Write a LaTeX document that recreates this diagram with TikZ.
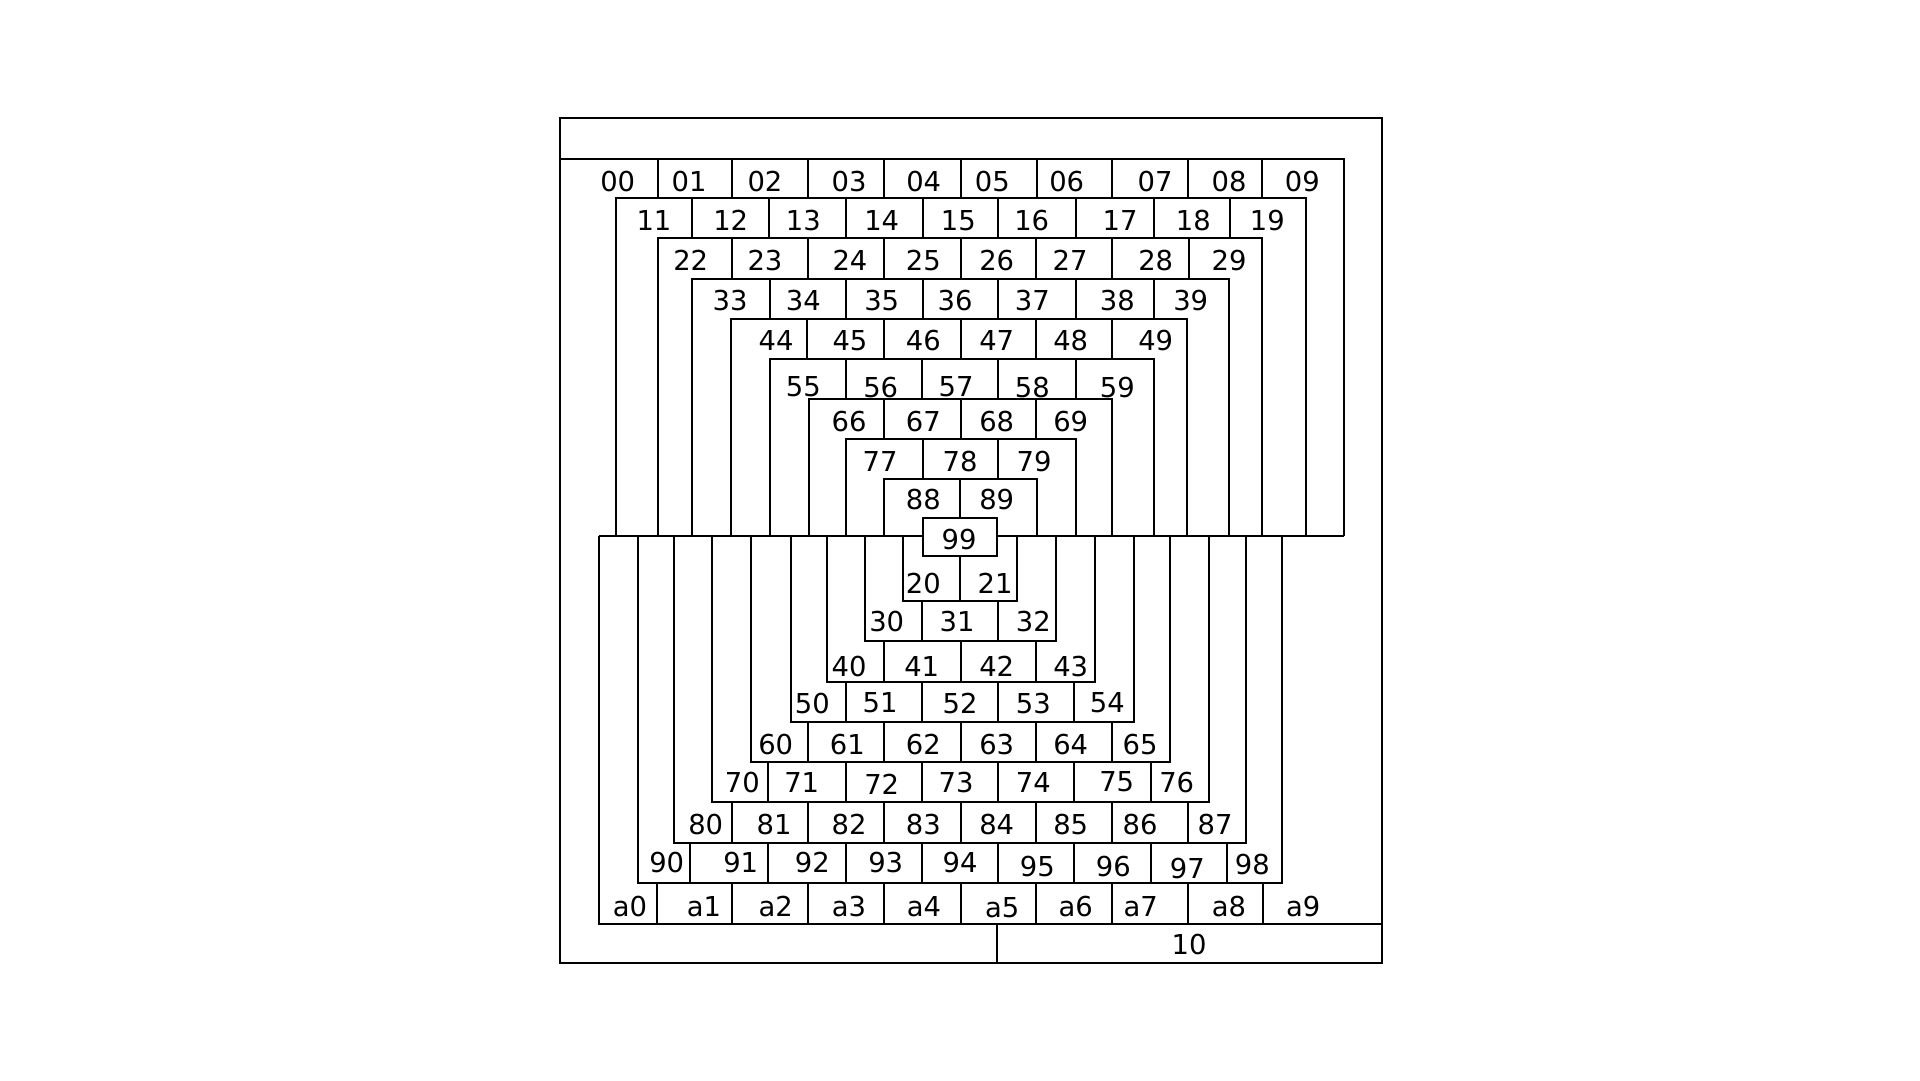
\documentclass[tikz,border=0pt]{standalone}
\usepackage{fontspec}
\setmainfont{DejaVu Sans}

\begin{document}
\begin{tikzpicture}[x=0.1mm,y=-0.1mm,line width=0.55pt]
  \tikzstyle{lbl}=[inner sep=0pt,yshift=-0.4pt,font=\fontsize{7.8}{9}\selectfont]
  \useasboundingbox (0,0) rectangle (1920,1080);
  \draw (560,118.3) rectangle (1381.7,963.3);
  \draw (560,159.3) -- (1344,159.3) -- (1344,536);
  \foreach \l/\t/\r in {616/198.3/1305.7,657.7/238.3/1261.7,691.7/279.3/1229.3,731/319.3/1186.7,
      770/359.3/1154,809/399.3/1111.7,846/439.3/1076,884/479/1036.7}
    \draw (\l,536) -- (\l,\t) -- (\r,\t) -- (\r,536);
  \draw (599,536) -- (1344,536);
  \foreach \l/\b/\r in {903.3/601/1017.3,865/641/1055.7,827.3/681.7/1095,790.7/721.7/1134,
      751/762.3/1169.7,711.7/802.3/1209.3,674.3/842.7/1245.7,637.7/883.3/1281.7}
    \draw (\l,536) -- (\l,\b) -- (\r,\b) -- (\r,536);
  \draw (599,536) -- (599,924) -- (1381.7,924);
  \draw (997.3,924) -- (997.3,963.3);
  \foreach \t/\b/\xs in {
      159.3/198.3/{658.3,732.3,808.3,884,960.7,1036.7,1111.7,1187.7,1262.3},
      198.3/238.3/{691.7,769.3,845.7,922.7,998.3,1076,1154.3,1230},
      238.3/279.3/{732.3,808.3,884,960.7,1036,1111.7,1189},
      279.3/319.3/{770,845.7,922.7,998.3,1076,1154.3},
      319.3/359.3/{807.3,884,960.7,1036,1112.3},
      359.3/399.3/{845.7,921.7,998.3,1076},
      399.3/439.3/{884,960.7,1036},
      439.3/479/{922.7,998.3},
      479/517.7/{960},
      556/601/{960},
      601/641/{921.7,997.7},
      641/681.7/{884,960.7,1036},
      681.7/721.7/{845.7,921.7,998.3,1074.3},
      721.7/762.3/{808.3,884,960.7,1036,1111.7},
      762.3/802.3/{767.7,845.7,921.7,998.3,1074.3,1151},
      802.3/842.7/{731.7,808.3,884,960.7,1036,1111.7,1187.7},
      842.7/883.3/{690,767.7,845.7,921.7,998.3,1074.3,1150.7,1226.7},
      883.3/924/{656.7,731.7,808.3,884,960.7,1036,1111.7,1187.7,1263.3}}
    \foreach \x in \xs \draw (\x,\t) -- (\x,\b);
  \draw[fill=white] (922.7,517.7) rectangle (997.3,556);
  \foreach \y/\row in {
      180/{00/617.7,01/689,02/765,03/849,04/923.7,05/992.3,06/1066.7,07/1155,08/1229,09/1302.3},
      219.3/{11/654,12/730.7,13/803.3,14/881.7,15/958.3,16/1031.7,17/1120,18/1193.3,19/1267.3},
      259/{22/690.7,23/765,24/850,25/923.3,26/996.7,27/1070,28/1155.7,29/1229},
      299/{33/730,34/803.3,35/881.7,36/955,37/1032.3,38/1117.3,39/1190.7},
      339/{44/776,45/850,46/923.3,47/996.7,48/1070.7,49/1155.7},
      385.7/{55/803.3,56/880.7,57/956,58/1032.3,59/1117.3},
      420/{66/849,67/923.3,68/996.7,69/1070.7},
      460/{77/880,78/960,79/1034},
      498.3/{88/923.3,89/996.7},
      538.3/{99/959},
      581.7/{20/923.3,21/995},
      620/{30/886.7,31/957,32/1033.3},
      665/{40/849,41/921.7,42/996.7,43/1070.7},
      701.7/{50/812.3,51/880,52/960,53/1033.3,54/1107.3},
      743.3/{60/775.7,61/847.3,62/923.3,63/996.7,64/1070.7,65/1140},
      780.7/{70/742.3,71/801.7,73/956,74/1033.3,75/1116.7,76/1176.7},
      823.3/{80/705.7,81/774,82/849,83/923.3,84/996.7,85/1070.7,86/1140,87/1215},
      860.7/{90/666.7,91/740.7,92/812.3,93/885.7,94/960},
      905/{a0/630,a1/704,a2/775.7,a3/849,a4/924,a6/1075.7,a7/1140.7,a8/1229,a9/1303.3}}
    \foreach \n/\x in \row \node[lbl] (c\n) at (\x,\y) {\n};
  \node[lbl] (c72) at (881.7,783.3) {72};
  \node[lbl] (c95) at (1037.3,865) {95};
  \node[lbl] (c96) at (1113.3,865) {96};
  \node[lbl] (c97) at (1187.3,866.7) {97};
  \node[lbl] (c98) at (1252.3,863.3) {98};
  \node[lbl] (ca5) at (1002.3,906.7) {a5};
  \node[lbl] (c10) at (1189,943.3) {10};
\end{tikzpicture}
\end{document}
